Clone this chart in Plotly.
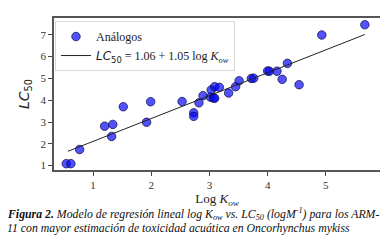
import plotly.graph_objects as go

log_kow = [0.54, 0.62, 0.77, 1.20, 1.34, 1.32, 1.52, 1.92, 1.99, 2.53,
           2.73, 2.73, 2.82, 2.89, 3.02, 3.07, 3.09, 3.03, 3.09, 3.17,
           3.33, 3.45, 3.51, 3.72, 3.76, 4.00, 4.03, 4.16, 4.25, 4.34,
           4.54, 4.93, 5.67]
lc50 = [1.09, 1.09, 1.74, 2.81, 2.89, 2.34, 3.70, 2.99, 3.93, 3.94,
        3.42, 3.26, 3.88, 4.21, 4.14, 4.10, 4.09, 4.47, 4.62, 4.59,
        4.33, 4.62, 4.89, 5.00, 5.01, 5.34, 5.33, 5.33, 4.96, 5.69,
        4.71, 6.99, 7.46]
intercept = 1.06
slope = 1.05
line_x = [0.57, 5.67]
line_y = [intercept + slope * v for v in line_x]
x_ticks = [1, 2, 3, 4, 5]
y_ticks = [1, 2, 3, 4, 5, 6, 7]

SERIF = "Liberation Serif"
SANS = "DejaVu Sans"

fig = go.Figure()
fig.add_trace(go.Scatter(
    x=log_kow, y=lc50, mode="markers", name="Análogos", legendrank=1,
    marker=dict(size=8.5, color="rgba(0,0,255,0.68)",
                line=dict(color="rgba(10,10,60,0.8)", width=0.9)),
))
fig.add_trace(go.Scatter(
    x=line_x, y=line_y, mode="lines", legendrank=2,
    name=("<span style='font-family:DejaVu Sans'><i>LC</i><sub>50</sub></span>"
          " = 1.06 + 1.05 log <i>K</i><sub><i>ow</i></sub>"),
    line=dict(color="#222222", width=1),
))

fig.update_layout(
    width=388, height=249,
    margin=dict(l=46, r=16, t=8, b=87),
    paper_bgcolor="white", plot_bgcolor="white",
    font=dict(family=SERIF, size=11, color="#222"),
    legend=dict(x=0.003, y=0.98, xanchor="left", yanchor="top",
                bgcolor="white", bordercolor="#d8d8d8", borderwidth=1,
                font=dict(family=SERIF, size=12, color="#222"),
                tracegroupgap=0, itemwidth=30),
    showlegend=True,
)
fig.update_xaxes(
    range=[0.33, 5.93], tickvals=x_ticks, ticks="outside", ticklen=4,
    tickcolor="#444", showgrid=False, zeroline=False,
    showline=True, linecolor="#555", linewidth=1.5, mirror=True,
    tickfont=dict(family=SERIF, size=11, color="#333"),
    title=dict(text="Log <i>K</i><sub><i>ow</i></sub>", standoff=1,
               font=dict(family=SERIF, size=13, color="#222")),
)
fig.update_yaxes(
    range=[0.8, 7.77], tickvals=y_ticks, ticks="outside", ticklen=4,
    tickcolor="#444", showgrid=False, zeroline=False,
    showline=True, linecolor="#555", linewidth=1.5, mirror=True,
    tickfont=dict(family=SERIF, size=11, color="#333"),
    title=dict(text="<i>LC</i><sub>50</sub>", standoff=8,
               font=dict(family=SANS, size=14, color="#222")),
)

cap1 = ("<b><i>Figura 2.</i></b><i> Modelo de regresión lineal log K<sub>ow</sub> vs. "
        "LC<sub>50</sub> (logM<sup>-1</sup>) para los ARM-</i>")
cap2 = "<i>11 con mayor estimación de toxicidad acuática en Oncorhynchus mykiss</i>"
fig.add_annotation(text=cap1, xref="paper", yref="paper", x=-0.15, y=-0.287,
                   xanchor="left", yanchor="middle", showarrow=False,
                   font=dict(family=SERIF, size=11.8, color="#111"))
fig.add_annotation(text=cap2, xref="paper", yref="paper", x=-0.15, y=-0.38,
                   xanchor="left", yanchor="middle", showarrow=False,
                   font=dict(family=SERIF, size=11.8, color="#111"))

fig.write_html("out.html")
